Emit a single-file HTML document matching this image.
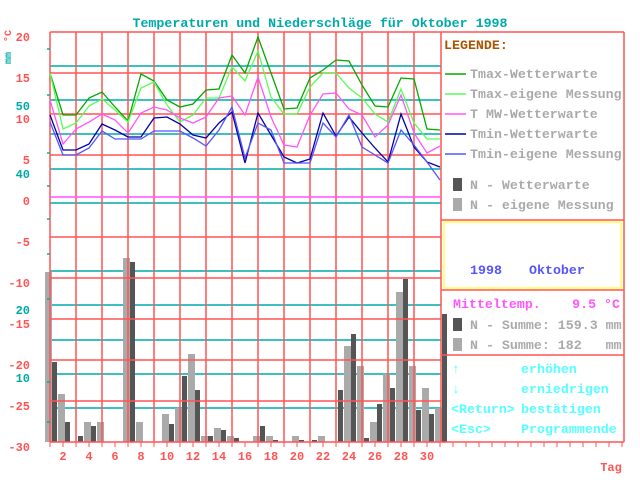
<!DOCTYPE html>
<html><head><meta charset="utf-8"><style>
html,body{margin:0;padding:0;background:#fff;width:640px;height:480px;overflow:hidden}
svg{display:block}
text{font-family:"Liberation Mono","DejaVu Sans Mono",monospace;font-weight:bold;white-space:pre}
</style></head><body>
<svg width="640" height="480" viewBox="0 0 640 480" xmlns="http://www.w3.org/2000/svg" xml:space="preserve">
<text x="320" y="27" fill="#00aaaa" font-size="13.3" text-anchor="middle">Temperaturen und Niederschläge für Oktober 1998</text>
<g stroke="#00aaaa" stroke-width="1.5">
<line x1="50" y1="66" x2="441" y2="66"/><line x1="50" y1="100" x2="441" y2="100"/><line x1="50" y1="134" x2="441" y2="134"/><line x1="50" y1="169" x2="441" y2="169"/><line x1="50" y1="203" x2="441" y2="203"/><line x1="50" y1="271" x2="441" y2="271"/><line x1="50" y1="305" x2="441" y2="305"/><line x1="50" y1="340" x2="441" y2="340"/><line x1="50" y1="374" x2="441" y2="374"/><line x1="50" y1="408" x2="441" y2="408"/>
</g>
<g fill="#aaaaaa" id="gb"></g>
<g fill="#555555" id="db"></g>
<g stroke="#ff5555" stroke-width="1.5" fill="none">
<line x1="50" y1="32" x2="624" y2="32"/><line x1="50" y1="73" x2="441" y2="73"/><line x1="50" y1="114" x2="441" y2="114"/><line x1="50" y1="155" x2="441" y2="155"/><line x1="50" y1="237" x2="441" y2="237"/><line x1="50" y1="278" x2="441" y2="278"/><line x1="50" y1="319" x2="441" y2="319"/><line x1="50" y1="360" x2="441" y2="360"/><line x1="50" y1="401" x2="441" y2="401"/><line x1="50" y1="442" x2="624" y2="442"/>
<line x1="50" y1="32" x2="50" y2="442"/><line x1="76" y1="32" x2="76" y2="442"/><line x1="102" y1="32" x2="102" y2="442"/><line x1="128" y1="32" x2="128" y2="442"/><line x1="154" y1="32" x2="154" y2="442"/><line x1="180" y1="32" x2="180" y2="442"/><line x1="206" y1="32" x2="206" y2="442"/><line x1="232" y1="32" x2="232" y2="442"/><line x1="258" y1="32" x2="258" y2="442"/><line x1="284" y1="32" x2="284" y2="442"/><line x1="310" y1="32" x2="310" y2="442"/><line x1="336" y1="32" x2="336" y2="442"/><line x1="362" y1="32" x2="362" y2="442"/><line x1="388" y1="32" x2="388" y2="442"/><line x1="414" y1="32" x2="414" y2="442"/>
<line x1="441" y1="32" x2="441" y2="442"/><line x1="624" y1="32" x2="624" y2="442"/>
<line x1="441" y1="220" x2="624" y2="220"/><line x1="441" y1="290" x2="624" y2="290"/><line x1="441" y1="355" x2="624" y2="355"/>
</g>
<rect x="444" y="222" width="177" height="66" fill="none" stroke="#ffff55" stroke-width="1.5"/>
<g stroke="#00aaaa" stroke-width="1.5"><line x1="47" y1="49" x2="50" y2="49"/><line x1="47" y1="95" x2="50" y2="95"/><line x1="47" y1="153" x2="50" y2="153"/><line x1="47" y1="186" x2="50" y2="186"/><line x1="47" y1="219" x2="50" y2="219"/><line x1="47" y1="254" x2="50" y2="254"/><line x1="47" y1="299" x2="50" y2="299"/><line x1="47" y1="382" x2="50" y2="382"/><line x1="47" y1="422" x2="50" y2="422"/></g>
<line x1="50" y1="197" x2="441" y2="197" stroke="#ff55ff" stroke-width="1.5"/>
<g fill="none" stroke-width="1.3">
<polyline stroke="#00aa00" points="50,73 63,115 76,115 89,98 102,92 115,107 128,121 141,74 154,81 167,100 180,107 193,104 206,90 219,89 232,55 245,73 258,37 271,73 284,109 297,108 310,78 323,70 336,60 349,61 362,85 375,106 388,107 401,78 414,79 427,129 440,130"/>
<polyline stroke="#55ff55" points="50,73 63,129 76,123 89,106 102,99 115,110 128,122 141,88 154,82 167,105 180,122 193,115 206,98 219,98 232,67 245,81 258,51 271,97 284,114 297,114 310,87 323,73 336,73 349,88 362,98 375,114 388,122 401,89 414,123 427,139 440,139"/>
<polyline stroke="#ff55ff" points="50,100 63,144 76,129 89,122 102,114 115,120 128,133 141,113 154,107 167,110 180,118 193,123 206,117 219,98 232,96 245,115 258,77 271,117 284,145 297,147 310,115 323,94 336,93 349,109 362,115 375,137 388,125 401,95 414,133 427,153 440,146"/>
<polyline stroke="#0000aa" points="50,115 63,150 76,150 89,144 102,124 115,130 128,137 141,137 154,118 167,117 180,124 193,135 206,138 219,123 232,112 245,163 258,113 271,135 284,157 297,163 310,159 323,113 336,136 349,117 362,133 375,148 388,162 401,114 414,147 427,162 440,167"/>
<polyline stroke="#5555ff" points="50,122 63,155 76,155 89,148 102,131 115,139 128,139 141,139 154,131 167,131 180,131 193,138 206,146 219,130 232,107 245,158 258,123 271,130 284,163 297,163 310,163 323,123 336,137 349,115 362,147 375,155 388,163 401,130 414,145 427,162 440,180"/>
</g>
<g fill="#ff5555" font-size="12" text-anchor="end">
<text x="30" y="41">20</text><text x="30" y="82">15</text><text x="30" y="123">10</text><text x="30" y="164">5</text><text x="30" y="205">0</text><text x="30" y="246">-5</text><text x="30" y="287">-10</text><text x="30" y="328">-15</text><text x="30" y="369">-20</text><text x="30" y="410">-25</text><text x="30" y="451">-30</text>
</g>
<g fill="#00aaaa" font-size="12" text-anchor="end">
<text x="30" y="110">50</text><text x="30" y="178">40</text><text x="30" y="314">20</text><text x="30" y="382">10</text>
</g>
<text transform="translate(11,42) rotate(-90)" fill="#ff5555" font-size="10">°C</text>
<text transform="translate(11,64) rotate(-90)" fill="#00aaaa" font-size="10">mm</text>
<g stroke="#ff5555" stroke-width="1" id="tk"></g>
<g fill="#ff5555" font-size="12" text-anchor="middle">
<text x="63" y="460">2</text><text x="89" y="460">4</text><text x="115" y="460">6</text><text x="141" y="460">8</text><text x="167" y="460">10</text><text x="193" y="460">12</text><text x="219" y="460">14</text><text x="245" y="460">16</text><text x="271" y="460">18</text><text x="297" y="460">20</text><text x="323" y="460">22</text><text x="349" y="460">24</text><text x="375" y="460">26</text><text x="401" y="460">28</text><text x="427" y="460">30</text>
<text x="611" y="471">Tag</text>
</g>
<text x="444" y="49" fill="#aa5500" font-size="13.3">LEGENDE:</text>
<g stroke-width="1.5">
<line x1="445" y1="74" x2="466" y2="74" stroke="#00aa00"/><line x1="445" y1="94" x2="466" y2="94" stroke="#55ff55"/><line x1="445" y1="114" x2="466" y2="114" stroke="#ff55ff"/><line x1="445" y1="134" x2="466" y2="134" stroke="#0000aa"/><line x1="445" y1="154" x2="466" y2="154" stroke="#5555ff"/>
</g>
<rect x="453" y="178" width="9" height="13" fill="#555555"/><rect x="453" y="198" width="9" height="13" fill="#aaaaaa"/>
<rect x="453" y="318" width="9" height="13" fill="#555555"/><rect x="453" y="338" width="9" height="13" fill="#aaaaaa"/>
<g fill="#aaaaaa" font-size="13.3">
<text x="470" y="78">Tmax-Wetterwarte</text><text x="470" y="98">Tmax-eigene Messung</text><text x="470" y="118">T MW-Wetterwarte</text><text x="470" y="138">Tmin-Wetterwarte</text><text x="470" y="158">Tmin-eigene Messung</text>
<text x="470" y="189">N - Wetterwarte</text><text x="470" y="209">N - eigene Messung</text>
<text x="470" y="329">N - Summe: 159.3 mm</text><text x="470" y="349">N - Summe: 182&#160;&#160;&#160;mm</text>
</g>
<g fill="#5555ff" font-size="13.3"><text x="470" y="274">1998</text><text x="529" y="274">Oktober</text></g>
<g fill="#ff55ff" font-size="13.3"><text x="453" y="308">Mitteltemp.</text><text x="620" y="308" text-anchor="end">9.5 °C</text></g>
<g fill="#55ffff" font-size="13.3">
<text x="452" y="373">↑</text><text x="521" y="373">erhöhen</text>
<text x="452" y="393">↓</text><text x="521" y="393">erniedrigen</text>
<text x="451" y="413">&lt;Return&gt;</text><text x="521" y="413">bestätigen</text>
<text x="451" y="433">&lt;Esc&gt;</text><text x="521" y="433">Programmende</text>
</g>
<script>
var g=[272,394,0,422,422,0,258,422,0,414,408,354,436,428,436,0,436,436,0,436,0,436,0,346,366,422,374,292,366,388,408];
var d=[362,422,436,426,0,0,262,0,0,424,376,390,436,430,438,0,426,440,0,440,440,0,390,334,438,404,388,279,410,414,314];
var ns="http://www.w3.org/2000/svg",gb=document.getElementById("gb"),db=document.getElementById("db"),tk=document.getElementById("tk");
function r(p,x,y,w){var e=document.createElementNS(ns,"rect");e.setAttribute("x",x);e.setAttribute("y",y);e.setAttribute("width",w);e.setAttribute("height",442-y);p.appendChild(e);}
for(var i=0;i<31;i++){var x=50+13*i;if(g[i])r(gb,x-5,g[i],7);if(d[i])r(db,x+2,d[i],5);}
for(var x=50;x<=624;x+=13){var l=document.createElementNS(ns,"line");l.setAttribute("x1",x);l.setAttribute("x2",x);l.setAttribute("y1",442);l.setAttribute("y2",447);tk.appendChild(l);}
</script>
</svg>
</body></html>
